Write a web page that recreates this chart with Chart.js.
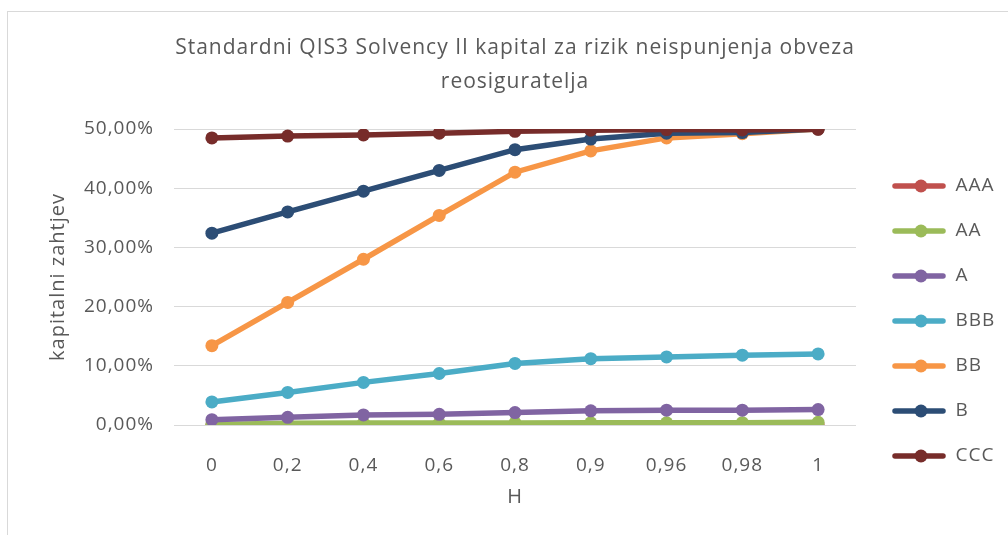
<!DOCTYPE html>
<html>
<head>
<meta charset="utf-8">
<script src="https://cdn.jsdelivr.net/npm/chart.js@4"></script>
<style>
  html, body { margin: 0; padding: 0; background: #fff; }
  #wrap { position: relative; width: 1008px; height: 535px; overflow: hidden; }
  #frame { position: absolute; left: 7px; top: 11px; width: 1100px; height: 600px; border: 1px solid #d9d9d9; pointer-events: none; }
  canvas { position: absolute; left: 0; top: 0; }
</style>
</head>
<body>
<div id="wrap">
  <canvas id="chart" width="1008" height="535"></canvas>
  <div id="frame"></div>
</div>
<script>
// podaci ocitani s grafa (u %)
const categories = ['0', '0,2', '0,4', '0,6', '0,8', '0,9', '0,96', '0,98', '1'];
const seriesNames = ['AAA', 'AA', 'A', 'BBB', 'BB', 'B', 'CCC'];
const seriesColors = ['#C0504D', '#9BBB59', '#8064A2', '#4BACC6', '#F79646', '#2C4D75', '#772C2A'];

const aaa = [0.02, 0.03, 0.03, 0.04, 0.04, 0.05, 0.05, 0.05, 0.06];
const aa  = [0.10, 0.30, 0.32, 0.33, 0.35, 0.37, 0.38, 0.40, 0.45];
const a   = [0.9, 1.3, 1.7, 1.8, 2.1, 2.4, 2.5, 2.5, 2.6];
const bbb = [3.9, 5.5, 7.2, 8.7, 10.4, 11.2, 11.5, 11.8, 12.0];
const bb  = [13.4, 20.7, 28.0, 35.4, 42.7, 46.3, 48.5, 49.2, 50.0];
const b   = [32.4, 36.0, 39.5, 43.0, 46.5, 48.3, 49.3, 49.4, 50.0];
const ccc = [48.5, 48.8, 49.0, 49.3, 49.6, 49.8, 49.9, 49.85, 49.95];

const seriesValues = [aaa, aa, a, bbb, bb, b, ccc];

const titleLines = ['Standardni QIS3 Solvency II kapital za rizik neispunjenja obveza', 'reosiguratelja'];
const yTitle = 'kapitalni zahtjev';
const xTitle = 'H';

const FONT = "'Open Sans', 'Noto Sans', sans-serif";
const GREY = '#595959';
const LINE_W = 5.5;

// marker za legendu: linija s tockom (kao u Excelu)
function legendMarker(color) {
  const c = document.createElement('canvas');
  c.width = 64;
  c.height = 16;
  const g = c.getContext('2d');
  g.strokeStyle = color;
  g.lineWidth = LINE_W;
  g.lineCap = 'round';
  g.beginPath();
  g.moveTo(13, 8);
  g.lineTo(61, 8);
  g.stroke();
  g.fillStyle = color;
  g.beginPath();
  g.arc(39, 8, 6.5, 0, Math.PI * 2);
  g.fill();
  return c;
}

// sirina legende fiksna, razmak slova kao u Excelu
const layoutFix = {
  id: 'layoutFix',
  beforeLayout(chart) {
    chart.ctx.letterSpacing = '1px';
    const lg = chart.legend;
    if (lg && !lg._fixed) {
      const fit = lg.fit;
      lg.fit = function () { fit.call(this); this.width = 152; };
      lg._fixed = true;
    }
  },
  beforeDraw(chart) {
    chart.ctx.letterSpacing = '1px';
  }
};

const datasets = seriesNames.map((name, i) => ({
  label: name,
  data: seriesValues[i],
  borderColor: seriesColors[i],
  backgroundColor: seriesColors[i],
  pointBackgroundColor: seriesColors[i],
  pointBorderWidth: 0,
  pointRadius: 6.5,
  borderWidth: LINE_W,
  tension: 0,
  order: seriesNames.length - i, // kasnije serije iznad
}));

new Chart(document.getElementById('chart').getContext('2d'), {
  type: 'line',
  data: { labels: categories, datasets: datasets },
  plugins: [layoutFix],
  options: {
    responsive: false,
    animation: false,
    layout: { padding: { left: 22, right: 0, top: 0, bottom: 0 } },
    plugins: {
      tooltip: { enabled: false },
      title: {
        display: true,
        text: titleLines,
        color: GREY,
        font: { family: FONT, size: 21, weight: 'normal', lineHeight: 34 / 21 },
        padding: { top: 31, bottom: 30 },
      },
      legend: {
        position: 'right',
        align: 'start',
        title: { display: true, text: '', font: { size: 10 }, padding: { top: 138.5, bottom: 0 } },
        labels: {
          usePointStyle: true,
          pointStyleWidth: 64,
          padding: 26,
          color: GREY,
          font: { family: FONT, size: 19 },
          generateLabels(chart) {
            return chart.data.datasets.map((ds, i) => ({
              text: ds.label,
              pointStyle: legendMarker(ds.borderColor),
              fillStyle: ds.borderColor,
              strokeStyle: ds.borderColor,
              lineWidth: 0,
              hidden: false,
              datasetIndex: i,
              fontColor: GREY,
            }));
          },
        },
      },
    },
    scales: {
      x: {
        offset: true,
        grid: { display: false, offset: true },
        border: { display: false },
        ticks: { color: GREY, font: { family: FONT, size: 19 }, padding: 21 },
        title: { display: true, text: xTitle, color: GREY, font: { family: FONT, size: 20 }, padding: { top: 0, bottom: 26 } },
        afterFit(scale) { scale.height = 110; },
      },
      y: {
        min: 0,
        max: 50,
        grid: { color: '#d9d9d9', lineWidth: 1, drawTicks: false },
        border: { display: false },
        ticks: {
          stepSize: 10,
          color: GREY,
          font: { family: FONT, size: 19 },
          padding: 20,
          callback: (v) => v.toFixed(2).replace('.', ',') + '%',
        },
        title: { display: true, text: yTitle, color: GREY, font: { family: FONT, size: 20 }, padding: { top: 24, bottom: 0 } },
        afterFit(scale) { scale.width = 152; },
      },
    },
  },
});
</script>
</body>
</html>
